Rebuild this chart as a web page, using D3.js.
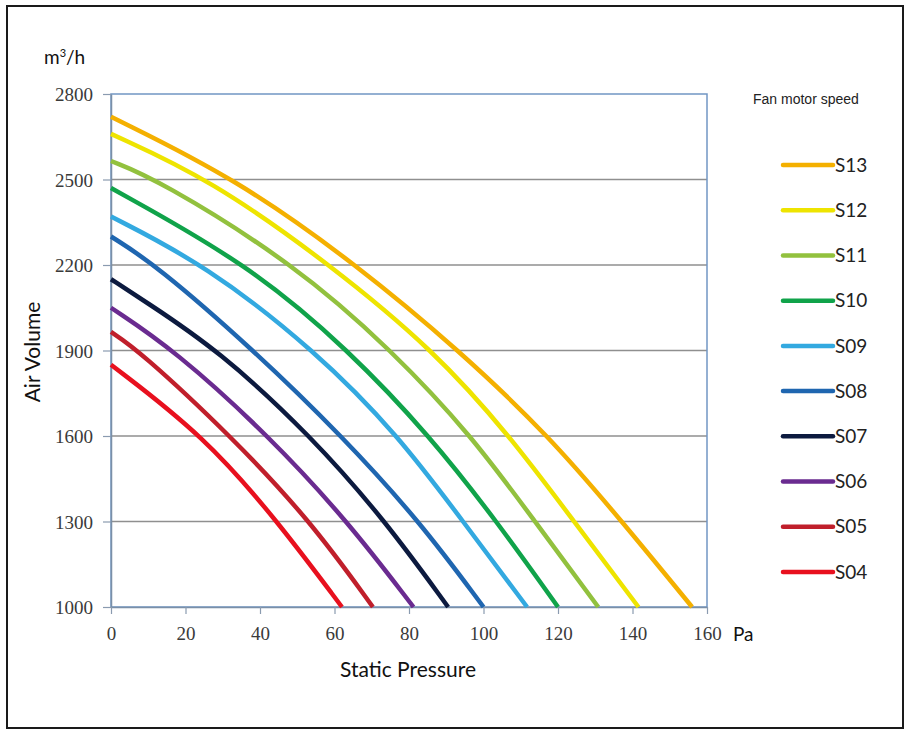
<!DOCTYPE html>
<html>
<head>
<meta charset="utf-8">
<script src="https://cdn.jsdelivr.net/npm/d3@7"></script>
<style>
  body { margin: 0; background: #fff; }
  svg { display: block; }
</style>
</head>
<body>
<script>
// ---- data ----
const seriesNames = ["S13", "S12", "S11", "S10", "S09", "S08", "S07", "S06", "S05", "S04"];
const seriesColors = ["#f4b000", "#eee400", "#92c13e", "#10a34a", "#33a9e0", "#1f66b0", "#0c1a3f", "#6a2b90", "#c01f2b", "#e8101e"];
// [static pressure (Pa), air volume (m3/h)]
const S13 = [[0, 2720], [34, 2500], [66, 2200], [93.5, 1900], [117.6, 1600], [137.2, 1300], [156, 1000]];
const S12 = [[0, 2660], [26.8, 2500], [59, 2200], [86.7, 1900], [107.1, 1600], [124.3, 1300], [141.6, 1000]];
const S11 = [[0, 2565], [12.6, 2500], [49.6, 2200], [75.4, 1900], [96.9, 1600], [113.8, 1300], [130.8, 1000]];
const S10 = [[0, 2470], [37.2, 2200], [63.9, 1900], [85.6, 1600], [103.6, 1300], [120, 1000]];
const S09 = [[0, 2370], [25.4, 2200], [54.8, 1900], [77.3, 1600], [94.5, 1300], [111.7, 1000]];
const S08 = [[0, 2300], [12.1, 2200], [38.4, 1900], [62, 1600], [82.9, 1300], [100, 1000]];
const S07 = [[0, 2150], [8.6, 2077], [29, 1900], [53.7, 1600], [73.8, 1300], [90.5, 1000]];
const S06 = [[0, 2050], [17.2, 1900], [42.4, 1600], [63.6, 1300], [81.2, 1000]];
const S05 = [[0, 1965], [7.5, 1900], [32.2, 1600], [53.7, 1300], [70.3, 1000]];
const S04 = [[0, 1850], [25, 1600], [44.8, 1300], [62, 1000]];
const seriesValues = [S13, S12, S11, S10, S09, S08, S07, S06, S05, S04];
const xTicks = [0, 20, 40, 60, 80, 100, 120, 140, 160];
const yTicks = [1000, 1300, 1600, 1900, 2200, 2500, 2800];

// ---- layout ----
const W = 905, H = 730;
const svg = d3.select("body").append("svg").attr("width", W).attr("height", H);

svg.append("rect").attr("x", 7).attr("y", 6).attr("width", 896).attr("height", 722)
  .attr("fill", "#fff").attr("stroke", "#1a1a1a").attr("stroke-width", 2);

const x = d3.scaleLinear().domain([0, 160]).range([111, 707]);
const y = d3.scaleLinear().domain([1000, 2800]).range([607, 94]);

// grid
svg.append("g").selectAll("line").data(yTicks.filter(v => v > 1000 && v < 2800)).join("line")
  .attr("x1", x(0)).attr("x2", x(160)).attr("y1", d => y(d)).attr("y2", d => y(d))
  .attr("stroke", "#8f8f8f").attr("stroke-width", 1.3);

// plot frame
svg.append("rect").attr("x", x(0)).attr("y", y(2800)).attr("width", x(160) - x(0)).attr("height", y(1000) - y(2800))
  .attr("fill", "none").attr("stroke", "#7296c4").attr("stroke-width", 1.5);

// axes
const fmt = d3.format("d");
const yAxis = d3.axisLeft(y).tickValues(yTicks).tickFormat(fmt).tickSize(8).tickSizeOuter(0).tickPadding(10);
const gy = svg.append("g").attr("transform", `translate(${x(0)},0)`).call(yAxis);
const xAxis = d3.axisBottom(x).tickValues(xTicks).tickFormat(fmt).tickSize(7).tickSizeOuter(0).tickPadding(13);
const gx = svg.append("g").attr("transform", `translate(0,${y(1000)})`).call(xAxis);
[gy, gx].forEach(g => {
  g.select(".domain").attr("stroke", "#7a8fa8").attr("stroke-width", 1.5);
  g.selectAll(".tick line").attr("stroke", "#8a9bb0").attr("stroke-width", 1.2);
  g.selectAll(".tick text").attr("fill", "#3a3a3a")
    .style("font-family", "'Liberation Serif', 'DejaVu Serif', serif").style("font-size", "19px");
});
gy.selectAll(".tick text").attr("dy", "0.35em");

// curves
const line = d3.line().x(d => x(d[0])).y(d => y(d[1])).curve(d3.curveBasis);
svg.append("g").selectAll("path").data(seriesValues).join("path")
  .attr("d", d => line(d)).attr("fill", "none")
  .attr("stroke", (d, i) => seriesColors[i]).attr("stroke-width", 4.5)
  .attr("stroke-linecap", "butt");

// labels
const sans = "Lato, 'Open Sans', 'Liberation Sans', sans-serif";
svg.append("text").attr("x", 44).attr("y", 64).style("font-family", sans).style("font-size", "19px").attr("fill", "#111")
  .html('m<tspan dy="-7" font-size="11">3</tspan><tspan dy="7">/h</tspan>');
svg.append("text").attr("transform", "translate(40,352) rotate(-90)").attr("text-anchor", "middle")
  .style("font-family", sans).style("font-size", "21px").attr("fill", "#111").text("Air Volume");
svg.append("text").attr("x", 408).attr("y", 677).attr("text-anchor", "middle")
  .style("font-family", sans).style("font-size", "21px").attr("fill", "#111").text("Static Pressure");
svg.append("text").attr("x", 733).attr("y", 641)
  .style("font-family", sans).style("font-size", "19px").attr("fill", "#111").text("Pa");
svg.append("text").attr("x", 753).attr("y", 104)
  .style("font-family", "'Liberation Sans', Arial, sans-serif").style("font-size", "14px").attr("fill", "#222").text("Fan motor speed");

// legend
const legY = d3.scaleLinear().domain([0, seriesNames.length - 1]).range([165, 572]);
const leg = svg.append("g").selectAll("g").data(seriesNames).join("g")
  .attr("transform", (d, i) => `translate(0,${legY(i)})`);
leg.append("line").attr("x1", 783).attr("x2", 833).attr("y1", 0).attr("y2", 0)
  .attr("stroke", (d, i) => seriesColors[i]).attr("stroke-width", 4.5).attr("stroke-linecap", "round");
leg.append("text").attr("x", 835).attr("y", 0).attr("dy", "0.35em")
  .style("font-family", sans).style("font-size", "19px").attr("fill", "#222").text(d => d);
</script>
</body>
</html>
